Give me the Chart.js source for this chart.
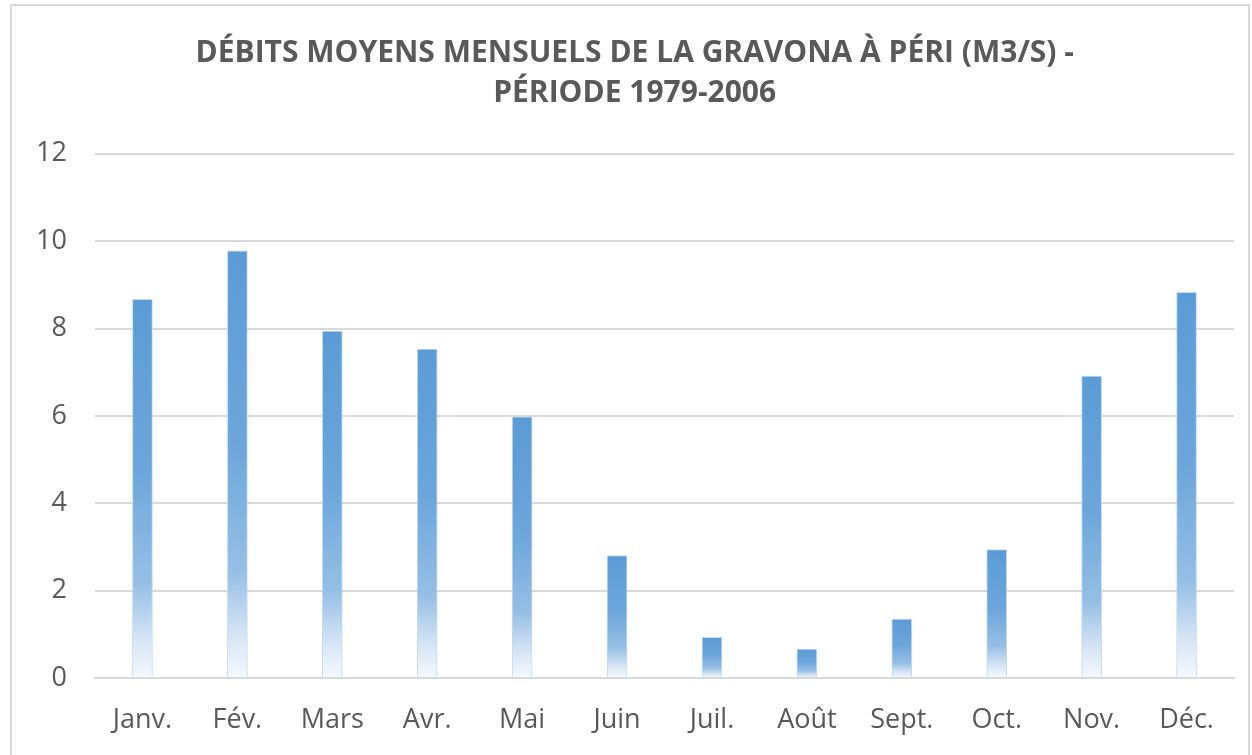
<!DOCTYPE html>
<html>
<head>
<meta charset="utf-8">
<script src="https://cdn.jsdelivr.net/npm/chart.js@4"></script>
<style>
  html, body { margin: 0; padding: 0; background: #fff; }
  #frame {
    position: absolute; left: 10px; top: 4px; width: 1240px; height: 760px;
    border: 2px solid #d9d9d9; box-sizing: border-box;
  }
  #myChart { display: block; }
</style>
</head>
<body>
<div id="frame"><canvas id="myChart" width="1236" height="756"></canvas></div>
<script>
const months = ["Janv.", "Fév.", "Mars", "Avr.", "Mai", "Juin", "Juil.", "Août", "Sept.", "Oct.", "Nov.", "Déc."];
const debits = [8.67, 9.78, 7.94, 7.53, 5.98, 2.8, 0.93, 0.66, 1.35, 2.94, 6.91, 8.83];
const yTicks = [0, 2, 4, 6, 8, 10, 12];
// leading spaces nudge the centred title a little to the right, as in the original
const titleLines = ["   DÉBITS MOYENS MENSUELS DE LA GRAVONA À PÉRI (M3/S) -", "   PÉRIODE 1979-2006"];

// fade each bar from blue at the top to almost white at the baseline
const barFill = (ctx) => {
  const chart = ctx.chart;
  const y = chart.scales.y;
  if (!y) return "#5b9bd5";
  const v = ctx.raw || 0;
  const top = y.getPixelForValue(v);
  const bottom = y.getPixelForValue(0);
  if (!isFinite(top) || bottom - top < 1) return "#5b9bd5";
  const g = chart.ctx.createLinearGradient(0, top, 0, bottom);
  g.addColorStop(0, "rgb(91,155,213)");
  g.addColorStop(0.45, "rgb(108,166,219)");
  g.addColorStop(0.75, "rgb(150,191,229)");
  g.addColorStop(0.9, "rgb(214,229,245)");
  g.addColorStop(1, "rgb(245,249,253)");
  return g;
};

new Chart(document.getElementById("myChart").getContext("2d"), {
  type: "bar",
  data: {
    labels: months,
    datasets: [{
      label: "Débits",
      data: debits,
      backgroundColor: barFill,
      borderColor: "rgba(189,215,238,0.9)",
      borderWidth: 1,
      barThickness: 20
    }]
  },
  options: {
    responsive: false,
    animation: false,
    layout: { padding: { left: 0, right: 14, top: 28, bottom: 10 } },
    plugins: {
      legend: { display: false },
      tooltip: { enabled: false },
      title: {
        display: true,
        text: titleLines,
        color: "#595959",
        font: { family: "Open Sans", size: 30, weight: "bold", lineHeight: 1.33 },
        padding: { top: 0, bottom: 40 }
      }
    },
    scales: {
      x: {
        grid: { display: false },
        border: { display: true, color: "#d9d9d9", width: 2 },
        ticks: { color: "#595959", font: { family: "Open Sans", size: 27 }, padding: 18 },
        afterFit: (axis) => { axis.height = 74; }
      },
      y: {
        min: 0,
        max: 12,
        afterBuildTicks: (axis) => { axis.ticks = yTicks.map(v => ({ value: v })); },
        afterFit: (axis) => { axis.width = 83; },
        grid: { color: "#d9d9d9", lineWidth: 2, drawTicks: false },
        border: { display: false },
        ticks: { color: "#595959", font: { family: "Open Sans", size: 27 }, padding: 28 }
      }
    }
  }
});
</script>
</body>
</html>
